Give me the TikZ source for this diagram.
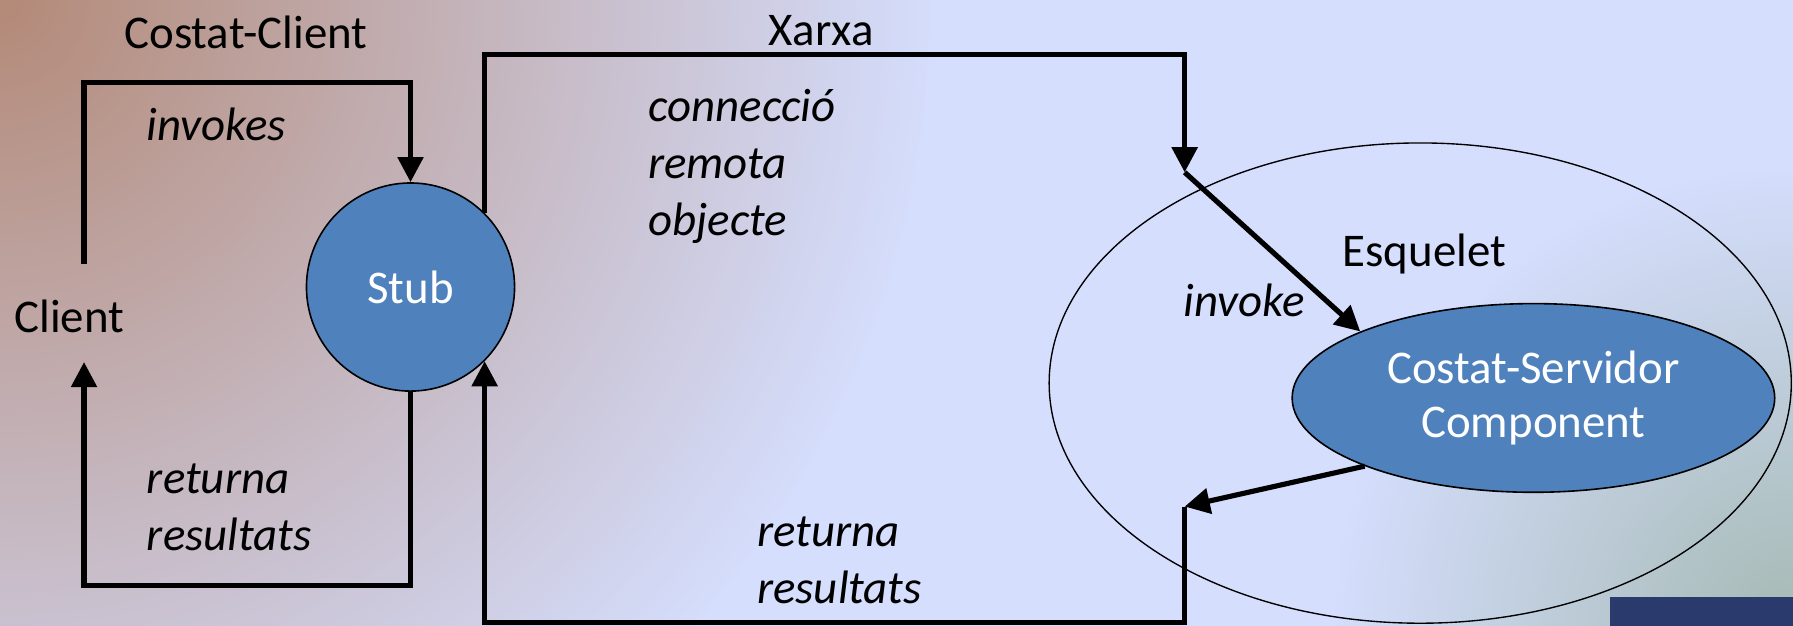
\documentclass[tikz,border=0pt]{standalone}
\usepackage{fontspec}
\setmainfont{Carlito}
\usetikzlibrary{shapes.geometric,arrows.meta,fadings,calc}
\definecolor{bgblue}{HTML}{D5DEFD}
\definecolor{bgbrown}{HTML}{B48A78}
\definecolor{bggreen}{HTML}{A6BAB4}
\definecolor{nodeblue}{HTML}{4F81BD}
\definecolor{logoblue}{HTML}{2A3A6C}
\tikzfading[name=radfade, inner color=transparent!0, outer color=transparent!100]
\begin{document}
\begin{tikzpicture}[x=1pt,y=-1pt,
  conn/.style={line width=4.5pt, black},
  arr/.style={conn, -{Triangle[length=22pt,width=22pt]}},
  lbl/.style={font=\fontsize{41}{50}\selectfont, inner sep=0pt, text=black},
  ilbl/.style={font=\fontsize{41}{50}\selectfont\itshape, inner sep=0pt, text=black, align=left},
  bluecirc/.style={circle, draw=black, line width=1.4pt, fill=nodeblue, minimum size=182pt, inner sep=0pt, text=white, font=\fontsize{41}{50}\selectfont},
  blueell/.style={ellipse, draw=black, line width=1.4pt, fill=nodeblue, minimum width=422pt, minimum height=165pt, inner sep=0pt, text=white, align=center, font=\fontsize{41}{48}\selectfont},
  outerell/.style={ellipse, draw=black, line width=1.2pt, minimum width=649pt, minimum height=420pt, inner sep=0pt}
]
\useasboundingbox (0,0) rectangle (1568,547);
% background
\begin{scope}
  \clip (0,0) rectangle (1568,547);
  \fill[bgblue] (0,0) rectangle (1568,547);
  \fill[bgbrown, path fading=radfade] (0,0) circle (820pt);
  \fill[bggreen, path fading=radfade] (1568,547) circle (400pt);
\end{scope}
\fill[logoblue] (1408,522) rectangle (1568,547);

% nodes
\node[lbl, anchor=base] (cc) at (215,42) {Costat-Client};
\node[lbl, anchor=base] (xarxa) at (718,40) {Xarxa};
\node[lbl, anchor=base] (client) at (60.5,291) {Client};
\node[ilbl, anchor=base west] (inv) at (128,123) {invokes};
\node[bluecirc] (stub) at (359,251) {Stub};
\node[outerell] (esq) at (1242,335) {};
\node[blueell] (srv) at (1341,348) {Costat-Servidor\\Component};
\node[lbl, anchor=base west] (esqlbl) at (1174,233) {Esquelet};
\node[ilbl, anchor=base west] (invoke) at (1035,277) {invoke};
\node[ilbl, anchor=base west] (remote) at (566.7,206) {connecció\\remota\\objecte};
\node[ilbl, anchor=base west] (ret1) at (128.3,481.6) {returna\\resultats};
\node[ilbl, anchor=base west] (ret2) at (662,528) {returna\\resultats};

% coordinates
\coordinate (cup) at (73.5,231);
\coordinate (ctop) at (0,72);
\coordinate (cdown) at (73.5,316.6);
\coordinate (cbot) at (73.5,512);
\coordinate (ntop) at (1036,48);
\coordinate (ntip) at (1036,150.7);
\coordinate (rtip) at (1036,443);
\coordinate (rbot) at (1036,544.5);

% connectors
\draw[arr] (cup) |- (ctop -| stub.north) -- (stub.north);
\draw[arr] (stub.south) |- (cbot) -- (cdown);
\draw[arr] (stub.45) |- (ntop) -- (ntip);
\draw[arr] (ntip) -- (srv.159);
\draw[arr] (srv.202) -- (rtip);
\draw[arr] (rtip) -- (rbot) -| (stub.-45);
\end{tikzpicture}
\end{document}
